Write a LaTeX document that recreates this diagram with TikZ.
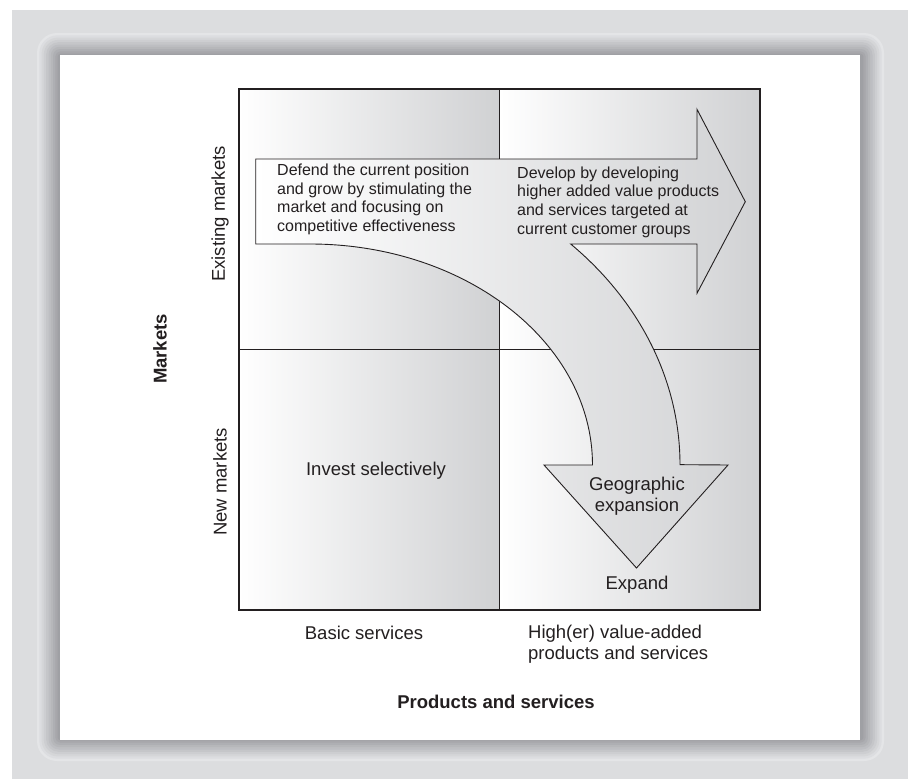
\documentclass[tikz,border=0pt]{standalone}
\usepackage{fontspec}
\setmainfont{Liberation Sans}
\definecolor{bggray}{RGB}{220,221,223}
\definecolor{ringlight}{RGB}{228,229,231}
\definecolor{ringdark}{RGB}{158,159,163}
\definecolor{qgray}{RGB}{208,209,211}
\definecolor{agray}{RGB}{210,211,213}
\definecolor{ink}{RGB}{35,31,32}
\begin{document}
\begin{tikzpicture}[x=1pt,y=-1pt,
  lbl/.style={inner sep=0pt, text=ink, font=\fontsize{18.5}{21.5}\selectfont, align=center},
  boldlbl/.style={inner sep=0pt, text=ink, font=\fontsize{18.5}{21.5}\selectfont\bfseries},
  atext/.style={inner sep=0pt, text=ink, font=\fontsize{16}{18.6}\selectfont, align=left, anchor=west},
  quad/.style={left color=white, right color=qgray},
  gridline/.style={draw=ink, line width=1.2pt},
  bigarrow/.style={draw=ink, line width=0.9pt, left color=white, right color=agray, line join=miter}
  ]
\useasboundingbox (0,0) rectangle (908,779);
\fill[white] (0,0) rectangle (908,779);
\fill[bggray] (12,10) rectangle (908,779);
% frame ring
\foreach \i in {0,...,9}{
  \pgfmathsetmacro\ins{\i*2.3}
  \pgfmathsetmacro\rr{20-\i*1.9}
  \pgfmathtruncatemacro\pc{\i*11}
  \fill[ringdark!\pc!ringlight, rounded corners=\rr pt] (37+\ins,33+\ins) rectangle (884-\ins,761-\ins);
}
\fill[white] (60,55) rectangle (860,740);
% quadrants
\path[quad] (239,89) rectangle (499.5,349.5);
\path[quad] (499.5,89) rectangle (760,349.5);
\path[quad] (239,349.5) rectangle (499.5,610);
\path[quad] (499.5,349.5) rectangle (760,610);
\draw[gridline] (239,89) rectangle (760,610);
\draw[gridline] (499.5,89) -- (499.5,610);
\draw[gridline] (239,349.5) -- (760,349.5);
% big arrow
\path[bigarrow]
 (255.7,159) -- (697,159) -- (697,109.3) -- (745.3,201.7) -- (697,293.3) -- (697,244) -- (570.7,244)
 arc[start angle=-45.2, end angle=0, x radius=370, y radius=311]
 -- (728,465) -- (636.5,568) -- (544,465) -- (592.5,465)
 arc[start angle=0, end angle=-90, x radius=282.5, y radius=221]
 -- (255.7,244) -- cycle;
% texts
\node[atext] (defend) at (277,199.5) {Defend the current position\\and grow by stimulating the\\market and focusing on\\competitive effectiveness};
\node[atext] (develop) at (517,202) {Develop by developing\\higher added value products\\and services targeted at\\current customer groups};
\node[lbl] (geo) at (637,496) {Geographic\\expansion};
\node[lbl] (expand) at (637,585) {Expand};
\node[lbl] (invest) at (376,471) {Invest selectively};
\node[lbl] (basic) at (364,633) {Basic services};
\node[lbl, align=left, anchor=west] (higher) at (528,644) {High(er) value-added\\products and services};
\node[boldlbl] (prodserv) at (496,702) {Products and services};
\node[lbl, rotate=90] (existing) at (220,214) {Existing markets};
\node[lbl, rotate=90] (newm) at (220,482) {New markets};
\node[boldlbl, rotate=90] (markets) at (160,349) {Markets};
\end{tikzpicture}
\end{document}
